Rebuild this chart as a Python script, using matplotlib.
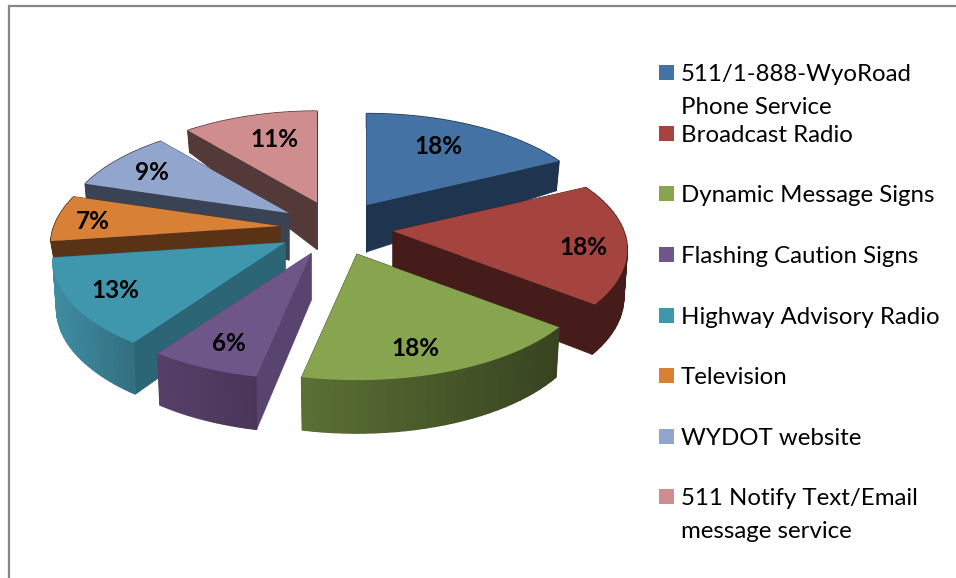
import numpy as np
import matplotlib
matplotlib.use("Agg")
import matplotlib.pyplot as plt
from matplotlib.colors import to_rgb

categories = ["511/1-888-WyoRoad\nPhone Service", "Broadcast Radio", "Dynamic Message Signs",
              "Flashing Caution Signs", "Highway Advisory Radio", "Television",
              "WYDOT website", "511 Notify Text/Email\nmessage service"]
shares = [17.7, 18.0, 17.5, 6.49, 13.1, 6.9, 9.1, 11.21]

top_colors = ["#4472a5", "#a5433f", "#87a44e", "#6f5689", "#3f97ae", "#d88136", "#92a6cd", "#cf8e8d"]
cut_colors = ["#1e344f", "#451c19", "#384420", "#59436f", "#2b6576", "#5a3317", "#3a4354", "#533938"]
rim_left = ["#1e344f", "#451c19", "#5a7034", "#574068", "#3f8da2", "#5a3317", "#3a4354", "#533938"]
rim_right = ["#1e344f", "#451c19", "#384420", "#493659", "#336f80", "#5a3317", "#3a4354", "#533938"]
label_r = [0.70, 0.82, 0.80, 0.80, 0.81, 0.82, 0.76, 0.70]
label_dx = [-6, -1, -14, 1, 2, 0, 0, 8]
label_dy = [-4, 4, 1, -1, -3, -1, -2, -3]
tip_shift = [0, 0, 1, -3, -3, 0, 0, 0]
x_squeeze = [1, 1, 1, 1, 0.99, 0.978, 0.968, 0.975]
wall_scale = [1, 1, 1, 1, 1, 0.4, 1, 1]
legend_y = [73, 134, 194, 255, 316, 376, 437, 497]
draw_order = [7, 0, 6, 5, 1, 4, 3, 2]

# pie geometry in pixels
cx, cy = 336.5, 228.2
ex, ey = 56.7, 27.4
rx, ry = 231, 106
kx, ky = 0.17, 0.16


def project(ang, r=1.0):
    # ang is clockwise from 12 o'clock, v > 0 is towards the viewer
    v = -np.cos(ang) * r
    return rx * np.sin(ang) * r / (1 - kx * v), ry * v / (1 - ky * v)


def depth(v):
    return np.interp(v, [-1, -0.77, -0.43, 0, 0.64, 1], [15, 22, 30, 47, 50, 53])


def mix(a, b, t):
    a, b = np.array(to_rgb(a)), np.array(to_rgb(b))
    return a + (b - a) * t


fig = plt.figure(figsize=(9.56, 5.78), dpi=100)
ax = fig.add_axes([0, 0, 1, 1])
ax.set_xlim(0, 956)
ax.set_ylim(578, 0)
ax.axis("off")
plt.rcParams["font.family"] = "Lato"

# frame of the pasted chart, open at the bottom and right
ax.plot([9, 9, 956], [578, 6, 6], color="#868686", lw=1.6, solid_joinstyle="miter")

edges = np.radians(np.concatenate([[0], np.cumsum(shares)]) * 3.6)
for i in draw_order:
    a0, a1 = edges[i], edges[i + 1]
    mid = (a0 + a1) / 2
    tx = cx + ex * np.sin(mid) + tip_shift[i]
    ty = cy - ey * np.cos(mid)

    ang = np.linspace(a0, a1, 30)
    px, py = project(ang)
    px = px * x_squeeze[i]
    v = -np.cos(ang)
    top_x, top_y = tx + px, ty + py
    bot_x, bot_y = tx + px * 0.985, ty + py + depth(v) * wall_scale[i]
    tip_d = depth(0) * wall_scale[i]

    # cut faces, then the rim, then the top face
    for j in [0, -1]:
        ax.fill([tx, top_x[j], bot_x[j], tx], [ty, top_y[j], bot_y[j], ty + tip_d],
                color=cut_colors[i], lw=0.5, zorder=2)
    # flat rim underneath so the gradient strips show no seams
    ax.fill(np.r_[top_x, bot_x[::-1]], np.r_[top_y, bot_y[::-1]],
            color=mix(rim_left[i], rim_right[i], 0.5), lw=0, zorder=2)
    for j in range(len(ang) - 1):
        t = (top_x[j] + top_x[j + 1]) / 2
        t = (t - top_x.min()) / (top_x.max() - top_x.min())
        c = mix(rim_left[i], rim_right[i], t)
        ax.fill([top_x[j], top_x[j + 1], bot_x[j + 1], bot_x[j]],
                [top_y[j], top_y[j + 1], bot_y[j + 1], bot_y[j]], color=c, lw=1.0, zorder=2)
    ax.fill(np.r_[tx, top_x], np.r_[ty, top_y], color=top_colors[i], lw=0, zorder=2)

    lx, ly = project(mid, label_r[i])
    ax.text(tx + lx + label_dx[i], ty + ly + 3 + label_dy[i], "%d%%" % round(shares[i]),
            ha="center", va="center", fontsize=17.5, fontweight="bold", color="black",
            family="Lato", zorder=5)

# legend
for i, name in enumerate(categories):
    ax.fill([659, 674, 674, 659], [legend_y[i] - 8, legend_y[i] - 8, legend_y[i] + 7, legend_y[i] + 7],
            color=top_colors[i], lw=0)
    for n, line in enumerate(name.split("\n")):
        ax.text(681, legend_y[i] + 1.5 + 33 * n, line, ha="left", va="center",
                fontsize=17.3, color="black", family="Lato")

fig.savefig("out.png", dpi=100)
